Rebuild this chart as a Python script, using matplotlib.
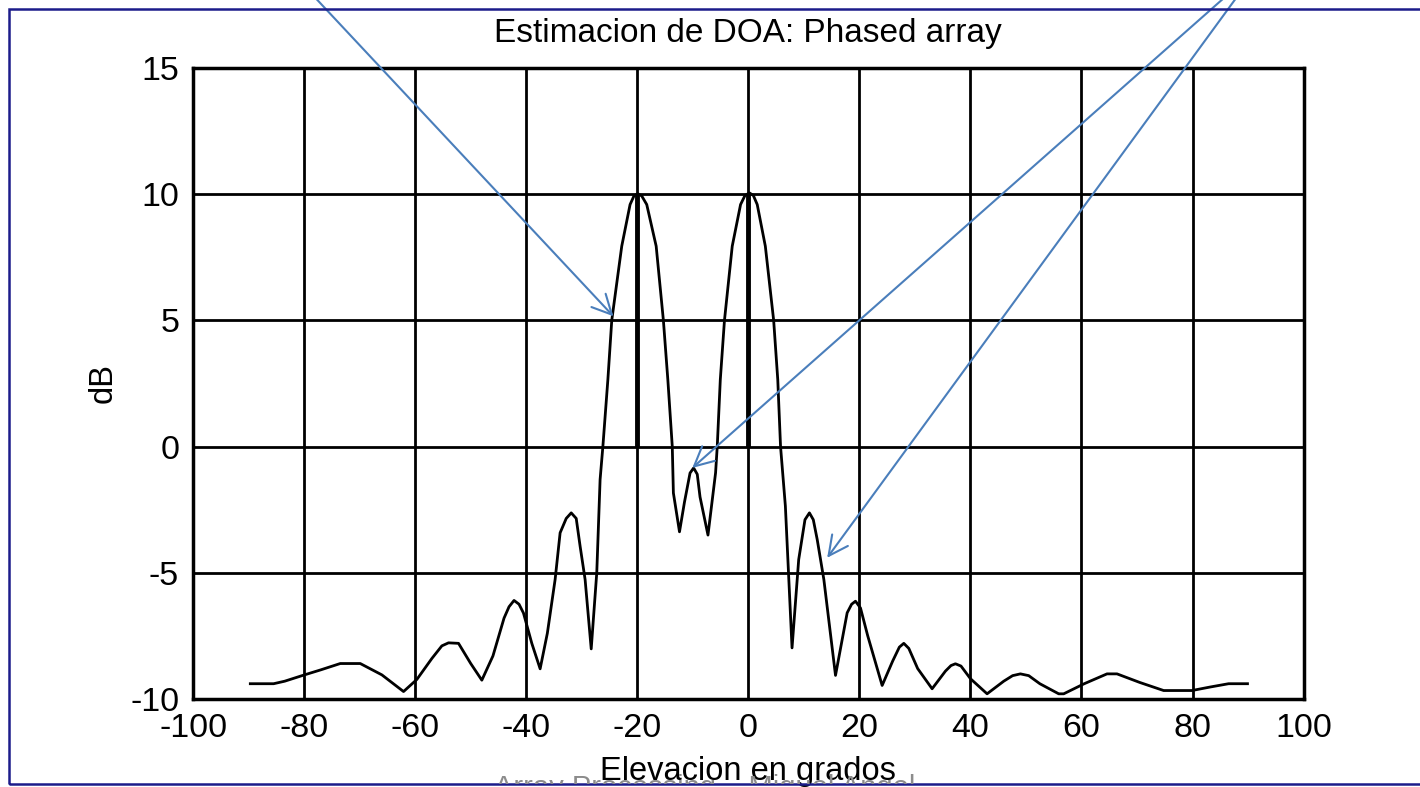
import matplotlib.pyplot as plt
from matplotlib.patches import Rectangle

plt.rcParams['font.family'] = ['Liberation Sans', 'DejaVu Sans']
plt.rcParams['axes.unicode_minus'] = False

# beamformer spectrum (deg, dB)
elev_deg = [-89.7, -85.5, -83.5, -80.1, -77.0, -73.5, -69.9, -66.0, -62.1, -59.7,
            -57.0, -55.2, -54.0, -52.2, -50.0, -48.0, -46.0, -44.0, -43.1, -42.2,
            -41.3, -40.5, -39.0, -37.5, -36.2, -34.8, -33.9, -32.8, -31.9, -31.0,
            -30.3, -29.4, -28.3, -27.3, -26.7, -26.2, -25.3, -24.6, -22.8, -21.3,
            -20.6, -19.9, -19.2, -18.3, -16.6, -15.3, -14.5, -13.7, -13.5, -12.4,
            -11.5, -10.5, -9.85, -9.2, -8.7, -7.27, -5.9, -5.6, -5.05, -4.3,
            -2.9, -1.4, -0.6, 0.2, 0.9, 1.6, 3.06, 4.56, 5.3, 5.8,
            6.67, 7.87, 9.07, 10.2, 11.0, 11.7, 12.4, 13.6, 15.7, 17.8,
            18.6, 19.3, 20.2, 21.5, 24.1, 26.0, 27.2, 28.0, 28.9, 30.5,
            33.1, 35.5, 36.5, 37.3, 38.3, 40.0, 43.0, 46.0, 47.6, 49.0,
            50.5, 52.5, 55.9, 56.8, 60.5, 64.6, 66.4, 70.5, 74.8, 79.9,
            83.2, 86.5, 89.9]
power_db = [-9.40, -9.40, -9.30, -9.06, -8.85, -8.60, -8.60, -9.05, -9.71, -9.23,
            -8.40, -7.90, -7.78, -7.80, -8.60, -9.26, -8.30, -6.80, -6.35, -6.10,
            -6.25, -6.60, -7.80, -8.81, -7.40, -5.27, -3.42, -2.85, -2.63, -2.85,
            -3.95, -5.27, -8.02, -5.00, -1.31, 0.0, 2.65, 5.0, 7.94, 9.59,
            9.93, 10.02, 9.93, 9.59, 7.94, 5.0, 2.65, 0.0, -1.84, -3.38,
            -2.2, -1.05, -0.85, -1.1, -2.0, -3.51, -1.04, 0.0, 2.65, 5.0,
            7.94, 9.59, 9.95, 10.05, 9.95, 9.59, 7.94, 5.0, 2.65, 0.0,
            -2.36, -7.98, -4.48, -2.9, -2.63, -2.9, -3.68, -5.27, -9.07, -6.59,
            -6.25, -6.13, -6.4, -7.5, -9.47, -8.5, -7.95, -7.80, -8.0, -8.8,
            -9.60, -8.9, -8.68, -8.61, -8.7, -9.2, -9.80, -9.3, -9.08, -9.01,
            -9.08, -9.4, -9.80, -9.80, -9.4, -9.01, -9.01, -9.35, -9.67, -9.67,
            -9.53, -9.40, -9.40]

# true directions of arrival
doa_true = [-20, 0]
doa_level = [10, 10]

# annotation arrows: tip in data coords, start in image pixels (from top-left)
arrow_tips = [(-24.3, 5.16), (-10.1, -0.85), (14.2, -4.41)]
arrow_starts = [(308, -10), (1233, -10), (1242, -10)]

W, H = 1420, 787
fig = plt.figure(figsize=(W / 100, H / 100), dpi=100)
ax = fig.add_axes([0.136, 0.112, 0.782, 0.8016])

ax.plot(elev_deg, power_db, color='black', lw=2)
ax.vlines(doa_true, 0, doa_level, color='black', lw=3.5)

ax.set_xlim(-100, 100)
ax.set_ylim(-10, 15)
ax.set_xticks(range(-100, 101, 20))
ax.set_yticks(range(-10, 16, 5))
ax.grid(True, color='black', lw=2, ls='-')
ax.set_axisbelow(True)
for s in ax.spines.values():
    s.set_linewidth(2.5)
ax.tick_params(direction='in', length=0, labelsize=24.5, pad=10)

ax.set_title('Estimacion de DOA: Phased array', fontsize=24, pad=19)
ax.set_xlabel('Elevacion en grados', fontsize=23.5, labelpad=9)
ax.set_ylabel('dB', fontsize=23.5, labelpad=8)

for (tx, ty), (sx, sy) in zip(arrow_tips, arrow_starts):
    ax.annotate('', xy=(tx, ty), xycoords='data',
                xytext=(sx / W, 1 - sy / H), textcoords='figure fraction',
                annotation_clip=False,
                arrowprops=dict(arrowstyle='->,head_length=0.7,head_width=0.35',
                                color='#4a7ebb', lw=1.5, mutation_scale=20,
                                shrinkA=0, shrinkB=0))

# slide frame and cut-off footer
frame = Rectangle((9 / W, 1 - 784 / H), 1.0, (784 - 9) / H, transform=fig.transFigure,
                  fill=False, edgecolor='#1c1c8a', lw=1.8)
fig.add_artist(frame)
footer = fig.text(0.4965, 1 - 796 / H, 'Array Processing \u2013 Miguel Angel',
                  ha='center', va='baseline', fontsize=21, color='#8c8c8c')
clip = Rectangle((0, 1 - 784 / H), 1, 784 / H, transform=fig.transFigure)
footer.set_clip_path(clip)

fig.savefig('out.png', dpi=100)
